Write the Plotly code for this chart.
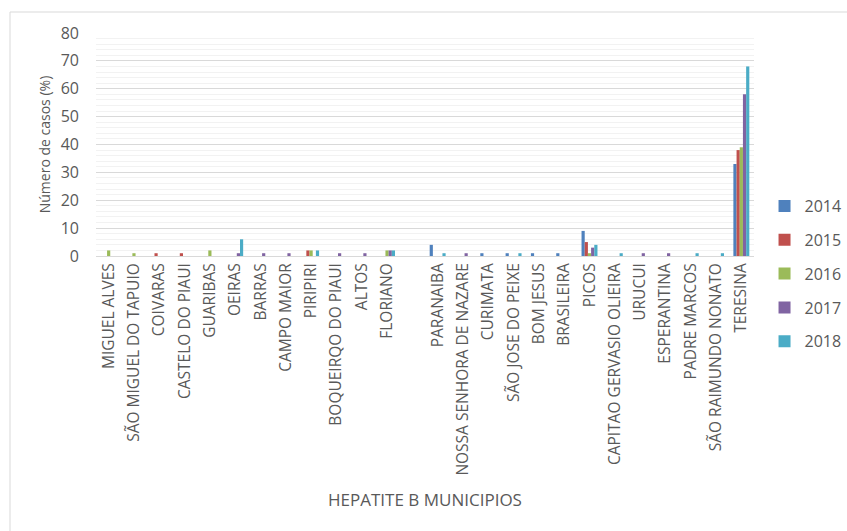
import plotly.graph_objects as go

# Municipalities (a blank slot separates the two groups on the axis)
municipios = [
    "MIGUEL ALVES", "SÃO MIGUEL DO TAPUIO", "COIVARAS", "CASTELO DO PIAUI",
    "GUARIBAS", "OEIRAS", "BARRAS", "CAMPO MAIOR", "PIRIPIRI",
    "BOQUEIRQO DO PIAUI", "ALTOS", "FLORIANO", " ",
    "PARANAIBA", "NOSSA SENHORA DE NAZARE", "CURIMATA", "SÃO JOSE DO PEIXE",
    "BOM JESUS", "BRASILEIRA", "PICOS", "CAPITAO GERVASIO OLIEIRA", "URUCUI",
    "ESPERANTINA", "PADRE MARCOS", "SÃO RAIMUNDO NONATO", "TERESINA",
]

casos_2014 = [0, 0, 0, 0, 0, 0, 0, 0, 0, 0, 0, 0, None,
              4, 0, 1, 1, 1, 1, 9, 0, 0, 0, 0, 0, 33]
casos_2015 = [0, 0, 1, 1, 0, 0, 0, 0, 2, 0, 0, 0, None,
              0, 0, 0, 0, 0, 0, 5, 0, 0, 0, 0, 0, 38]
casos_2016 = [2, 1, 0, 0, 2, 0, 0, 0, 2, 0, 0, 2, None,
              0, 0, 0, 0, 0, 0, 1, 0, 0, 0, 0, 0, 39]
casos_2017 = [0, 0, 0, 0, 0, 1, 1, 1, 0, 1, 1, 2, None,
              0, 1, 0, 0, 0, 0, 3, 0, 1, 1, 0, 0, 58]
casos_2018 = [0, 0, 0, 0, 0, 6, 0, 0, 2, 0, 0, 2, None,
              1, 0, 0, 1, 0, 0, 4, 1, 0, 0, 1, 1, 68]

anos = ["2014", "2015", "2016", "2017", "2018"]
series = [casos_2014, casos_2015, casos_2016, casos_2017, casos_2018]
cores = ["#4F81BD", "#C0504D", "#9BBB59", "#8064A2", "#4BACC6"]

FONT = "Open Sans"
TXT = "#595959"

fig = go.Figure()
for ano, vals, cor in zip(anos, series, cores):
    fig.add_trace(go.Bar(
        x=municipios, y=vals, name=ano, marker=dict(color=cor, line=dict(width=0)),
        legendgroup=ano,
    ))

fig.update_layout(
    width=847, height=531,
    margin=dict(l=96, r=93, t=33, b=275, autoexpand=False),
    paper_bgcolor="white", plot_bgcolor="white",
    barmode="group", bargap=0.37, bargroupgap=0,
    font=dict(family=FONT, color=TXT),
    showlegend=True,
    legend=dict(
        x=1.016, y=0.30, xanchor="left", yanchor="top",
        font=dict(size=16, color=TXT), traceorder="grouped",
        tracegroupgap=10, itemwidth=30,
    ),
    xaxis=dict(
        type="category", tickangle=-90, tickfont=dict(size=15.5, color=TXT),
        showline=True, linecolor="#D9D9D9", linewidth=1,
        ticks="", showgrid=False,
        title=dict(text="HEPATITE B MUNICIPIOS", font=dict(size=17, color=TXT), standoff=19),
    ),
    yaxis=dict(
        range=[0, 80], dtick=10, tickfont=dict(size=16, color=TXT),
        showgrid=True, gridcolor="#D9D9D9", gridwidth=1,
        minor=dict(dtick=2, showgrid=True, gridcolor="#F2F2F2", gridwidth=1),
        zeroline=False, ticks="", ticklabelstandoff=16,
        title=dict(text="Número de casos (%)", font=dict(size=14, color=TXT), standoff=6),
    ),
    shapes=[dict(
        type="rect", xref="paper", yref="paper",
        x0=-86 / 658, x1=1.2, y0=-1.5, y1=1 + 21 / 223,
        line=dict(color="#D9D9D9", width=1), fillcolor="rgba(0,0,0,0)", layer="below",
    )],
)

fig.write_html("out.html")
